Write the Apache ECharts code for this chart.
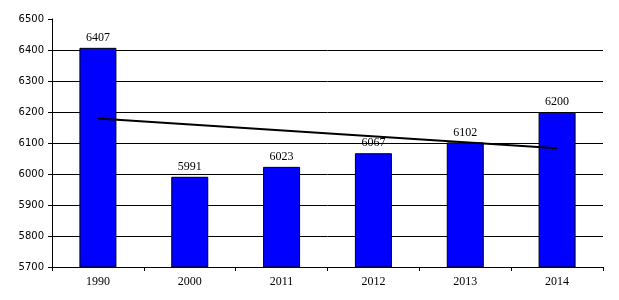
<!DOCTYPE html>
<html lang="en">
<head>
    <meta charset="UTF-8">
    <title>Bar chart with trend line</title>
    <style>
        html, body {
            margin: 0;
            padding: 0;
            background: #ffffff;
        }
        #main {
            width: 619px;
            height: 300px;
        }
    </style>
    <script type="text/javascript" src="https://cdn.jsdelivr.net/npm/echarts@6/dist/echarts.min.js"></script>
</head>
<body>
<div id="main"></div>
<script type="text/javascript">
    var years = ["1990", "2000", "2011", "2012", "2013", "2014"];
    var values = [6407, 5991, 6023, 6067, 6102, 6200];
    // trend line, ends only
    var trend = [6179, null, null, null, null, 6083];

    var chart = echarts.init(document.getElementById('main'));
    var option = {
        animation: false,
        grid: {
            left: 52,
            right: 16,
            top: 19,
            bottom: 33
        },
        xAxis: {
            type: 'category',
            data: years,
            axisLine: {lineStyle: {color: '#000', width: 1}},
            axisTick: {show: true, length: 4, lineStyle: {color: '#000'}},
            axisLabel: {
                color: '#000',
                fontFamily: 'Liberation Serif',
                fontSize: 12,
                margin: 9
            }
        },
        yAxis: {
            type: 'value',
            min: 5700,
            max: 6500,
            interval: 100,
            axisLine: {show: true, lineStyle: {color: '#000', width: 1}},
            axisTick: {show: true, length: 4, lineStyle: {color: '#000'}},
            axisLabel: {
                color: '#000',
                fontFamily: 'DejaVu Sans',
                fontSize: 10,
                margin: 8,
                formatter: function (v) { return String(v); }
            },
            splitLine: {
                show: true,
                showMaxLine: false,
                lineStyle: {color: '#000', width: 1}
            }
        },
        series: [{
            type: 'bar',
            data: values,
            barWidth: 37,
            itemStyle: {
                color: '#0000ff',
                borderColor: '#000',
                borderWidth: 1
            },
            label: {
                show: true,
                position: 'top',
                distance: 4,
                color: '#000',
                fontFamily: 'Liberation Serif',
                fontSize: 12
            }
        }, {
            type: 'line',
            data: trend,
            connectNulls: true,
            symbol: 'none',
            lineStyle: {color: '#000', width: 2},
            z: 5
        }]
    };
    chart.setOption(option);
</script>
</body>
</html>
